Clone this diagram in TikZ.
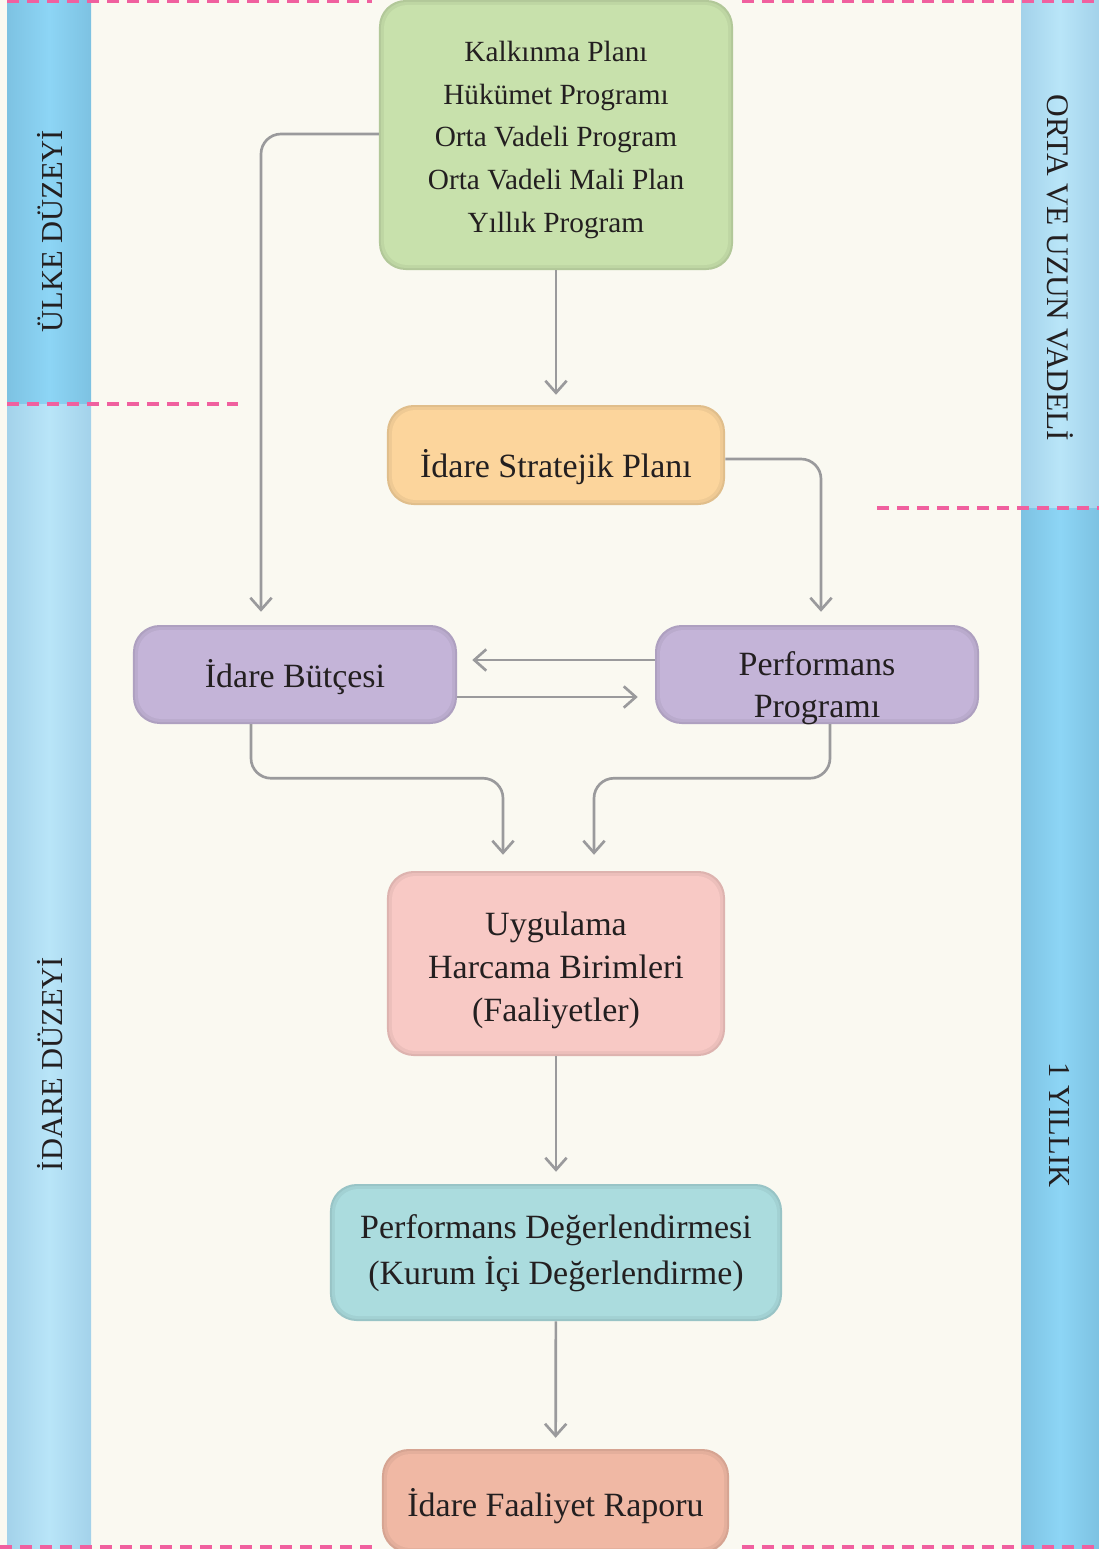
\documentclass[tikz,border=0pt]{standalone}
\usepackage{fontspec}
\setmainfont{Liberation Serif}
\usetikzlibrary{arrows.meta}

\definecolor{cream}{HTML}{FAF9F1}
\definecolor{ink}{HTML}{231F20}
\definecolor{bandDark}{HTML}{8DD5F5}
\definecolor{bandDarkEdge}{HTML}{7DC2E2}
\definecolor{bandLight}{HTML}{B9E5F8}
\definecolor{bandLightEdge}{HTML}{A3D2EA}
\definecolor{dashpink}{HTML}{F0609F}
\definecolor{arrowgray}{HTML}{9A9A9C}
\definecolor{planGreen}{HTML}{C8E1AC}
\definecolor{stratOrange}{HTML}{FCD59C}
\definecolor{progPurple}{HTML}{C4B4D8}
\definecolor{applyPink}{HTML}{F8C9C5}
\definecolor{evalTeal}{HTML}{ABDCDE}
\definecolor{reportSalmon}{HTML}{F0B8A4}

\begin{document}
\begin{tikzpicture}[x=0.03cm, y=-0.03cm,
    box/.style={rounded corners=0.8cm, fill=#1!89!black, inner sep=0pt,
      path picture={
        \fill[#1!95!black, rounded corners=0.76cm]
          ([shift={(0.06cm,-0.06cm)}]path picture bounding box.north west) rectangle
          ([shift={(-0.06cm,0.06cm)}]path picture bounding box.south east);
        \fill[#1, rounded corners=0.7cm]
          ([shift={(0.15cm,-0.15cm)}]path picture bounding box.north west) rectangle
          ([shift={(-0.15cm,0.15cm)}]path picture bounding box.south east);}},
    boxtext/.style={text=ink, align=center, font=\fontsize{29}{36.5}\selectfont},
    flow/.style={draw=arrowgray, line width=0.08cm, rounded corners=0.6cm,
      -{Straight Barb[length=0.36cm, width=0.64cm, line width=0.08cm]}},
    sidetext/.style={text=ink, font=\fontsize{26}{30}\selectfont},
    levelline/.style={draw=dashpink, line width=0.12cm, dash pattern=on 0.36cm off 0.24cm}]

  \useasboundingbox (0,0) rectangle (1099,1549);
  \clip (0,0) rectangle (1099,1549);

  % background and the two side bands
  \fill[cream] (0,0) rectangle (1099,1549);
  \shade[left color=bandDarkEdge, right color=bandDarkEdge, middle color=bandDark] (7,0) rectangle (91,404);
  \shade[left color=bandLightEdge, right color=bandLightEdge, middle color=bandLight] (7,404) rectangle (91,1549);
  \shade[left color=bandLightEdge, right color=bandLightEdge, middle color=bandLight] (1021,0) rectangle (1099,508);
  \shade[left color=bandDarkEdge, right color=bandDarkEdge, middle color=bandDark] (1021,508) rectangle (1099,1549);

  % level borders
  \draw[levelline] (7,1) -- (372,1);
  \draw[levelline] (742,1) -- (1099,1);
  \draw[levelline] (7,404) -- (238,404);
  \draw[levelline] (877,508) -- (1099,508);
  \draw[levelline] (0,1547) -- (372,1547);
  \draw[levelline] (742,1547) -- (1099,1547);

  \node[sidetext, rotate=90] (country) at (50,231) {ÜLKE DÜZEYİ};
  \node[sidetext, rotate=90] (agency) at (50,1064) {İDARE DÜZEYİ};
  \node[sidetext, font=\fontsize{26.8}{30}\selectfont, rotate=-90] (longterm) at (1060,268) {ORTA VE UZUN VADELİ};
  \node[sidetext, rotate=-90] (oneyear) at (1060,1125) {1 YILLIK};

  % boxes
  \node[box=planGreen, minimum width=10.62cm, minimum height=8.1cm] (plan) at (556,135) {};
  \node[boxtext, font=\fontsize{25}{36.3}\selectfont] (plantext) at ([yshift=-0.15cm]plan.center)
    {Kalkınma Planı\\Hükümet Programı\\Orta Vadeli Program\\Orta Vadeli Mali Plan\\Yıllık Program};
  \node[box=stratOrange, minimum width=10.14cm, minimum height=3cm] (strat) at (556,455) {};
  \node[boxtext] (strattext) at ([yshift=-0.36cm]strat.center) {İdare Stratejik Planı};
  \node[box=progPurple, minimum width=9.72cm, minimum height=2.97cm] (budget) at (295,674.5) {};
  \node[boxtext] (budgettext) at ([yshift=-0.09cm]budget.center) {İdare Bütçesi};
  \node[box=progPurple, minimum width=9.72cm, minimum height=2.97cm] (perf) at (817,674.5) {};
  \node[boxtext, font=\fontsize{29}{35.9}\selectfont] (perftext) at ([yshift=-0.42cm]perf.center) {Performans\\Programı};
  \node[box=applyPink, minimum width=10.14cm, minimum height=5.55cm] (apply) at (556,963.5) {};
  \node[boxtext] (applytext) at ([yshift=-0.21cm]apply.center) {Uygulama\\Harcama Birimleri\\(Faaliyetler)};
  \node[box=evalTeal, minimum width=13.56cm, minimum height=4.11cm] (eval) at (556,1252.5) {};
  \node[boxtext, font=\fontsize{29}{39.3}\selectfont] (evaltext) at ([yshift=-0.03cm]eval.center) {Performans Değerlendirmesi\\(Kurum İçi Değerlendirme)};
  \node[box=reportSalmon, minimum width=10.41cm, minimum height=3.12cm] (report) at (555.5,1501) {};
  \node[boxtext] (reporttext) at ([yshift=-0.15cm]report.center) {İdare Faaliyet Raporu};

  % connectors
  \draw[flow, shorten >=0.3cm] (plan) -- (strat);
  \draw[flow, shorten >=0.39cm] ([yshift=0.03cm]plan.west) -| ([xshift=-1.02cm]budget.north);
  \draw[flow, shorten >=0.39cm] ([yshift=-0.12cm]strat.east) -| ([xshift=0.12cm]perf.north);
  \draw[flow, shorten >=0.45cm] ([yshift=0.435cm]perf.west) -- ([yshift=0.435cm]budget.east);
  \draw[flow, shorten >=0.51cm] ([yshift=-0.675cm]budget.east) -- ([yshift=-0.675cm]perf.west);
  \draw[flow, shorten >=0.48cm] ([xshift=-1.32cm]budget.south) -- ++(0,54) -| ([xshift=-1.59cm]apply.north);
  \draw[flow, shorten >=0.48cm] ([xshift=0.39cm]perf.south) -- ++(0,54) -| ([xshift=1.14cm]apply.north);
  \draw[flow, shorten >=0.36cm] (apply) -- (eval);
  \draw[flow, shorten >=0.33cm] (eval) -- (report);

\end{tikzpicture}
\end{document}
